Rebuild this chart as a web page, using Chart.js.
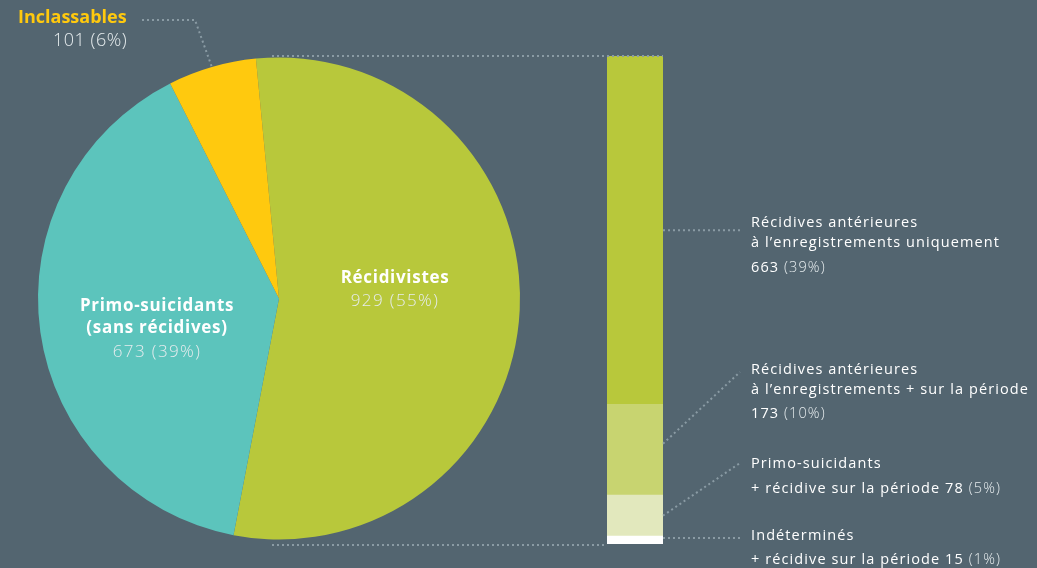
<!DOCTYPE html>
<html lang="fr">
<head>
<meta charset="utf-8">
<script src="https://cdn.jsdelivr.net/npm/chart.js@4"></script>
<style>
  html, body { margin: 0; padding: 0; }
  body { width: 1037px; height: 568px; background: #536570; position: relative; overflow: hidden;
         font-family: "Open Sans", sans-serif; color: #ffffff; }
  canvas { position: absolute; left: 0; top: 0; }
  .t { position: absolute; white-space: nowrap; line-height: 1; }
  .pie { font-size: 17px; text-align: center; transform: translateX(-50%); letter-spacing: 0.7px; }
  .pie.lt { letter-spacing: 1.4px; }
  .b { font-weight: 700; }
  .lt { font-weight: 300; color: #e6ecee; }
  .side { font-size: 14.5px; letter-spacing: 1.1px; }
  .yel { color: #ffc90e; }
</style>
</head>
<body>
<canvas id="pie" width="1037" height="568"></canvas>
<canvas id="bar" width="1037" height="568"></canvas>
<div id="labels"></div>
<script>
// Répartition des suicidants
const pieLabels = ['Récidivistes', 'Primo-suicidants (sans récidives)', 'Inclassables'];
const pieValues = [929, 673, 101];
const pieShares = [55, 39, 6];
const pieColors = ['#b8c83b', '#5cc4bc', '#ffc90e'];

// Détail des récidivistes (du bas vers le haut de la barre)
const barLabels = [
  ['Indéterminés', '+ récidive sur la période'],
  ['Primo-suicidants', '+ récidive sur la période'],
  ['Récidives antérieures', 'à l\u2019enregistrements + sur la période'],
  ['Récidives antérieures', 'à l\u2019enregistrements uniquement']
];
const barValues = [15, 78, 173, 663];
const barShares = [1, 5, 10, 39];
const barColors = ['#ffffff', '#e2e8bd', '#c8d470', '#b8c83b'];

const dotColor = '#8a9ba4';

const pieChart = new Chart(document.getElementById('pie'), {
  type: 'pie',
  data: {
    labels: pieLabels,
    datasets: [{ data: pieValues, backgroundColor: pieColors, borderWidth: 0 }]
  },
  options: {
    responsive: false,
    animation: false,
    rotation: -5.5,
    layout: { padding: { left: 38, right: 517, top: 57, bottom: 28 } },
    plugins: { legend: { display: false }, tooltip: { enabled: false } }
  }
});

function dotted(ctx, pts) {
  ctx.save();
  ctx.strokeStyle = dotColor;
  ctx.lineWidth = 2;
  ctx.lineCap = 'butt';
  ctx.setLineDash([2, 3]);
  ctx.beginPath();
  ctx.moveTo(pts[0][0], pts[0][1]);
  for (let i = 1; i < pts.length; i++) ctx.lineTo(pts[i][0], pts[i][1]);
  ctx.stroke();
  ctx.restore();
}

const connectors = {
  id: 'connectors',
  afterDatasetsDraw(chart) {
    const ctx = chart.ctx;
    const arcs = pieChart.getDatasetMeta(0).data;
    const cx = arcs[0].x, cy = arcs[0].y, r = arcs[0].outerRadius;
    const segs = barValues.map((v, i) => chart.getDatasetMeta(i).data[0]);
    const barTop = segs[segs.length - 1].y;
    const barBottom = segs[0].base;
    const left = segs[0].x - segs[0].width / 2;
    const right = segs[0].x + segs[0].width / 2;
    const mid = s => (s.y + s.base) / 2;

    // Zoom : haut et bas de la part des récidivistes
    dotted(ctx, [[cx - 7, barTop], [right, barTop]]);
    dotted(ctx, [[cx - 7, barBottom + 1], [left, barBottom + 1]]);

    // Inclassables
    const a = (arcs[2].startAngle + arcs[2].endAngle) / 2;
    dotted(ctx, [[142, 20], [195, 20], [cx + r * Math.cos(a), cy + r * Math.sin(a)]]);

    // Légendes de la barre
    const tx = 740;
    dotted(ctx, [[right, mid(segs[3])], [tx, mid(segs[3])]]);
    dotted(ctx, [[right, mid(segs[2]) - 6], [tx, 372]]);
    dotted(ctx, [[right, mid(segs[1])], [tx, 463]]);
    dotted(ctx, [[right, mid(segs[0]) - 2], [tx, mid(segs[0]) - 2]]);
  }
};

const barChart = new Chart(document.getElementById('bar'), {
  type: 'bar',
  data: {
    labels: ['Récidivistes'],
    datasets: barValues.map((v, i) => ({
      label: barLabels[i].join(' '),
      data: [v],
      backgroundColor: barColors[i],
      borderWidth: 0,
      barPercentage: 1,
      categoryPercentage: 1
    }))
  },
  options: {
    responsive: false,
    animation: false,
    layout: { padding: { left: 607, right: 374, top: 56, bottom: 24 } },
    scales: {
      x: { stacked: true, display: false },
      y: { stacked: true, display: false, min: 0, max: barValues.reduce((s, v) => s + v, 0) }
    },
    plugins: { legend: { display: false }, tooltip: { enabled: false } }
  },
  plugins: [connectors]
});

// Textes
const box = document.getElementById('labels');
function addText(html, cls, x, y) {
  const d = document.createElement('div');
  d.className = 't ' + cls;
  d.style.left = x + 'px';
  d.style.top = y + 'px';
  d.innerHTML = html;
  box.appendChild(d);
  return d;
}

// Inclassables (aligné à droite sur x = 127)
const inc1 = addText(pieLabels[2], 'b yel', 0, 7);
inc1.style.fontSize = '18px';
inc1.style.left = (127 - inc1.offsetWidth) + 'px';
const inc2 = addText(pieValues[2] + ' (' + pieShares[2] + '%)', 'lt', 0, 30);
inc2.style.fontSize = '18px';
inc2.style.letterSpacing = '0.5px';
inc2.style.left = (127 - inc2.offsetWidth) + 'px';

// Récidivistes
addText(pieLabels[0], 'pie b', 395, 268);
addText(pieValues[0] + ' (' + pieShares[0] + '%)', 'pie lt', 395, 291);

// Primo-suicidants
addText('Primo-suicidants', 'pie b', 157, 296);
addText('(sans récidives)', 'pie b', 157, 318);
addText(pieValues[1] + ' (' + pieShares[1] + '%)', 'pie lt', 157, 342);

// Légendes de la barre
const sx = 751;
const num = i => barValues[i] + ' <span class="lt">(' + barShares[i] + '%)</span>';
addText(barLabels[3][0], 'side', sx, 215);
addText(barLabels[3][1], 'side', sx, 235);
addText(num(3), 'side', sx, 260);

addText(barLabels[2][0], 'side', sx, 362);
addText(barLabels[2][1], 'side', sx, 382);
addText(num(2), 'side', sx, 406);

addText(barLabels[1][0], 'side', sx, 456);
addText(barLabels[1][1] + ' ' + num(1), 'side', sx, 481);

addText(barLabels[0][0], 'side', sx, 528);
addText(barLabels[0][1] + ' ' + num(0), 'side', sx, 552);
</script>
</body>
</html>
